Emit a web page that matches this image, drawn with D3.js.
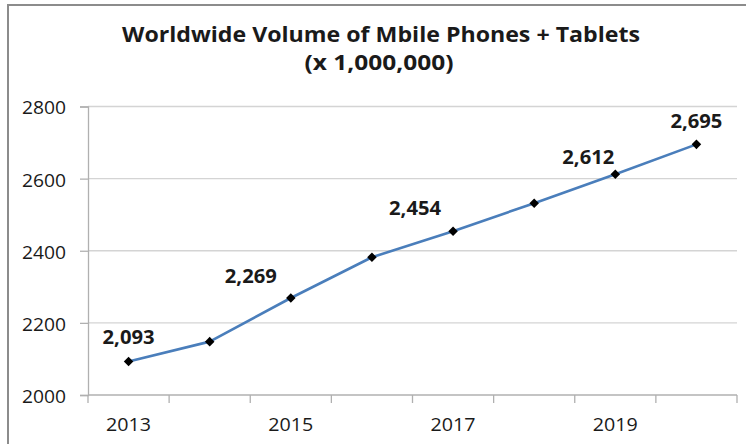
<!DOCTYPE html>
<html>
<head>
<meta charset="utf-8">
<script src="https://cdn.jsdelivr.net/npm/d3@7/dist/d3.min.js"></script>
<style>
  html, body { margin: 0; padding: 0; background: #fff; }
  svg { display: block; }
  text { font-family: "Open Sans", "Noto Sans", sans-serif; fill: #1a1a1a; }
</style>
</head>
<body>
<svg id="chart" width="746" height="444"></svg>
<script>
// Worldwide volume of mobile phones + tablets, in millions
const years = [2013, 2014, 2015, 2016, 2017, 2018, 2019, 2020];
const volumes = [2093, 2148, 2269, 2382, 2454, 2532, 2612, 2695];
const yTicks = [2000, 2200, 2400, 2600, 2800];
const xTickLabels = [2013, 2015, 2017, 2019];
const labeledYears = [2013, 2015, 2017, 2019, 2020];
const titleLines = ["Worldwide Volume of Mbile Phones + Tablets", "(x 1,000,000)"];

// hand-placed data label nudges (dx, dy from the marker)
const labelNudge = { 2013: [0, -17], 2015: [-40, -15], 2017: [-38, -16], 2019: [-27, -10], 2020: [0, -16] };

const svg = d3.select("#chart");
const plot = { left: 88, right: 737, top: 106.5, bottom: 395 };

// outer chart frame (runs off the right and bottom edges)
svg.append("rect")
  .attr("x", 8).attr("y", 5).attr("width", 760).attr("height", 460)
  .attr("fill", "#fff").attr("stroke", "#8c8c8c").attr("stroke-width", 2);

const x = d3.scaleBand().domain(years).range([plot.left, plot.right]);
const y = d3.scaleLinear().domain([2000, 2800]).range([plot.bottom, plot.top]);
const cx = d => x(d) + x.bandwidth() / 2;

// horizontal gridlines
svg.append("g").selectAll("line").data(yTicks.filter(t => t > 2000)).join("line")
  .attr("x1", plot.left).attr("x2", plot.right)
  .attr("y1", d => y(d)).attr("y2", d => y(d))
  .attr("stroke", "#d4d4d4").attr("stroke-width", 1.3);

// y axis
const yAxis = svg.append("g").attr("transform", `translate(${plot.left},0)`)
  .call(d3.axisLeft(y).tickValues(yTicks).tickSize(8).tickFormat(d3.format("d")));
yAxis.select(".domain").attr("stroke", "#b0b0b0").attr("stroke-width", 1.3);
yAxis.selectAll(".tick line").attr("stroke", "#b0b0b0").attr("stroke-width", 1.3);
yAxis.selectAll(".tick text")
  .attr("x", -22).attr("dy", "0.4em")
  .attr("textLength", 44).attr("lengthAdjust", "spacingAndGlyphs")
  .style("font-size", "18.5px").style("fill", "#1a1a1a");

// x axis: tick marks on category boundaries, labels on alternate years
const xAxis = svg.append("g").attr("transform", `translate(0,${plot.bottom})`);
xAxis.append("line")
  .attr("x1", plot.left).attr("x2", plot.right)
  .attr("stroke", "#b0b0b0").attr("stroke-width", 1.3);
const edges = years.map(d => x(d)).concat([x(years[years.length - 1]) + x.bandwidth()]);
xAxis.selectAll("line.tick").data(edges).join("line").attr("class", "tick")
  .attr("x1", d => d).attr("x2", d => d).attr("y1", 0).attr("y2", 8)
  .attr("stroke", "#b0b0b0").attr("stroke-width", 1.3);
xAxis.selectAll("text").data(xTickLabels).join("text")
  .attr("x", d => cx(d)).attr("y", 35.7)
  .attr("text-anchor", "middle")
  .attr("textLength", 45).attr("lengthAdjust", "spacingAndGlyphs")
  .style("font-size", "18.5px")
  .text(d => d);

// series line
const pts = years.map((yr, i) => ({ year: yr, value: volumes[i] }));
svg.append("path").datum(pts)
  .attr("fill", "none").attr("stroke", "#4a7ebb").attr("stroke-width", 2.6)
  .attr("stroke-linejoin", "round")
  .attr("d", d3.line().x(d => cx(d.year)).y(d => y(d.value)));

// diamond markers
svg.append("g").selectAll("path").data(pts).join("path")
  .attr("transform", d => `translate(${cx(d.year)},${y(d.value)})`)
  .attr("d", d3.symbol(d3.symbolDiamond2, 58)())
  .attr("fill", "#000");

// data labels
const fmt = d3.format(",");
svg.append("g").selectAll("text").data(pts.filter(d => labeledYears.includes(d.year))).join("text")
  .attr("x", d => cx(d.year) + labelNudge[d.year][0])
  .attr("y", d => y(d.value) + labelNudge[d.year][1])
  .attr("text-anchor", "middle")
  .attr("textLength", 52).attr("lengthAdjust", "spacingAndGlyphs")
  .style("font-size", "19.5px").style("font-weight", "bold")
  .text(d => fmt(d.value));

// title
svg.append("text")
  .attr("x", 381).attr("y", 41.7).attr("text-anchor", "middle")
  .attr("textLength", 518).attr("lengthAdjust", "spacingAndGlyphs")
  .style("font-size", "21.5px").style("font-weight", "bold")
  .text(titleLines[0]);
svg.append("text")
  .attr("x", 379).attr("y", 70).attr("text-anchor", "middle")
  .attr("textLength", 149).attr("lengthAdjust", "spacingAndGlyphs")
  .style("font-size", "21.5px").style("font-weight", "bold")
  .text(titleLines[1]);
</script>
</body>
</html>
